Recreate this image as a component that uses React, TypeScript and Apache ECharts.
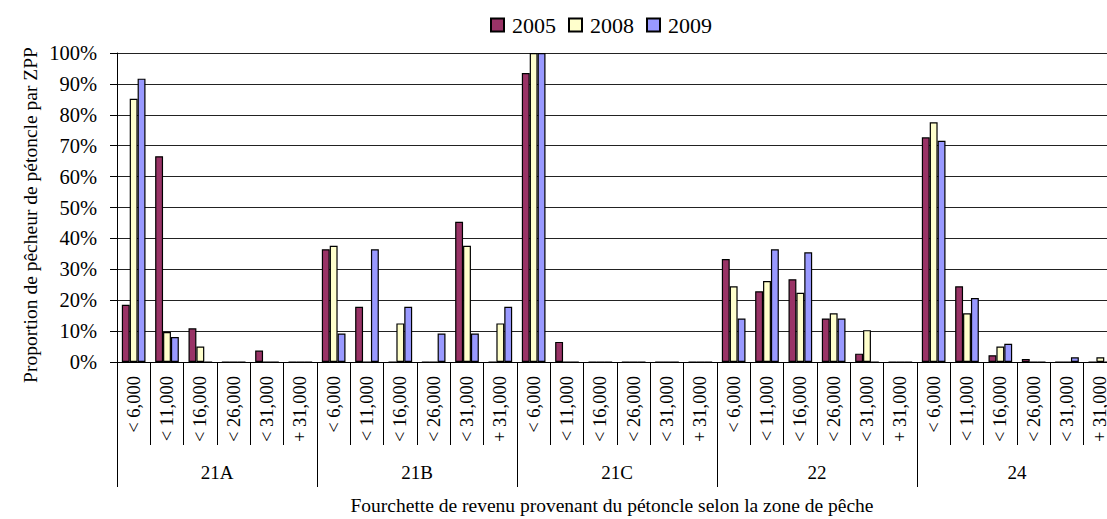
import React, { useEffect, useRef } from "react";
import * as echarts from "echarts";

const zones = ["21A", "21B", "21C", "22", "24"];
const incomeBands = ["< 6,000", "< 11,000", "< 16,000", "< 26,000", "< 31,000", "+ 31,000"];
const seriesNames = ["2005", "2008", "2009"];
const values2005 = [18.5, 66.6, 10.9, 0, 3.7, 0, 36.5, 17.9, 0, 0, 45.4, 0, 93.5, 6.5, 0, 0, 0, 0, 33.3, 22.9, 26.8, 14.1, 2.7, 0, 72.7, 24.5, 2.2, 1.0, 0, 0];
const values2008 = [85.2, 9.7, 5.0, 0, 0, 0, 37.6, 0, 12.5, 0, 37.6, 12.5, 100, 0, 0, 0, 0, 0, 24.5, 26.2, 22.4, 15.8, 10.3, 0, 77.6, 15.8, 5.0, 0, 0, 1.5];
const values2009 = [91.7, 8.1, 0, 0, 0, 0, 9.2, 36.5, 17.9, 9.2, 9.2, 17.9, 100, 0, 0, 0, 0, 0, 14.1, 36.5, 35.5, 14.1, 0, 0, 71.6, 20.7, 5.9, 0, 1.5, 0];
const yMax = 100;
const yStep = 10;
const yTitle = "Proportion de pêcheur de pétoncle par ZPP";
const xTitle = "Fourchette de revenu provenant du pétoncle selon la zone de pêche";

const colors = ["#993366", "#FFFFCC", "#9999FF"];
const FONT = "Liberation Serif";

export default function App() {
  const ref = useRef<HTMLDivElement>(null);
  useEffect(() => {
    if (!ref.current) return;
    const chart = echarts.init(ref.current, undefined, { renderer: "svg" });
    const cats = zones.flatMap((z) => incomeBands.map((b) => z + "|" + b));
    const allValues = [values2005, values2008, values2009];
    chart.setOption({
      animation: false,
      backgroundColor: "#ffffff",
      textStyle: { fontFamily: FONT, color: "#000" },
      legend: {
        top: 9,
        left: 485,
        itemWidth: 13,
        itemHeight: 13,
        itemGap: 12,
        icon: "rect",
        textStyle: { fontFamily: FONT, fontSize: 22, color: "#000", padding: [0, 0, 0, 3] },
        data: seriesNames,
      },
      grid: { left: 117, right: 3, top: 53, bottom: 157, containLabel: false },
      xAxis: [
        {
          type: "category",
          data: cats,
          position: "bottom",
          axisLine: { show: true, lineStyle: { color: "#000", width: 1 } },
          axisTick: { show: true, interval: 0, length: 83, lineStyle: { color: "#000" } },
          axisLabel: {
            interval: 0,
            rotate: 90,
            margin: 14,
            fontFamily: FONT,
            fontSize: 18.5,
            color: "#000",
            formatter: (v: string) => v.split("|")[1],
          },
          splitLine: { show: false },
        },
        {
          type: "category",
          data: zones,
          position: "bottom",
          offset: 0,
          axisLine: { show: false },
          axisTick: { show: true, interval: 0, length: 125, lineStyle: { color: "#000" } },
          axisLabel: {
            interval: 0,
            margin: 101,
            fontFamily: FONT,
            fontSize: 19,
            color: "#000",
          },
          splitLine: { show: false },
        },
      ],
      yAxis: {
        type: "value",
        min: 0,
        max: yMax,
        interval: yStep,
        axisLine: { show: true, lineStyle: { color: "#000" } },
        axisTick: { show: true, length: 7, lineStyle: { color: "#000" } },
        axisLabel: { formatter: "{value}%", margin: 20, fontFamily: FONT, fontSize: 20.5, color: "#000" },
        splitLine: { show: true, lineStyle: { color: "#222", width: 1 } },
      },
      graphic: [
        {
          type: "text",
          x: 30,
          y: 215,
          rotation: Math.PI / 2,
          style: {
            text: yTitle,
            fontFamily: FONT,
            fontSize: 19.5,
            fill: "#000",
            textAlign: "center",
            textVerticalAlign: "middle",
          },
        },
        {
          type: "text",
          x: 612,
          y: 505,
          style: {
            text: xTitle,
            fontFamily: FONT,
            fontSize: 19.5,
            fill: "#000",
            textAlign: "center",
            textVerticalAlign: "middle",
          },
        },
      ],
      series: seriesNames.map((name, i) => ({
        name,
        type: "bar",
        xAxisIndex: 0,
        data: allValues[i],
        barGap: "0%",
        barCategoryGap: "29%",
        itemStyle: { color: colors[i], borderColor: "#000", borderWidth: 1.2 },
      })),
    });
    return () => chart.dispose();
  }, []);
  return (
    <div style={{ position: "fixed", left: 0, top: 0, width: 1107, height: 519, overflow: "hidden", background: "#fff" }}>
      <div ref={ref} style={{ width: 1120, height: 519 }} />
    </div>
  );
}
